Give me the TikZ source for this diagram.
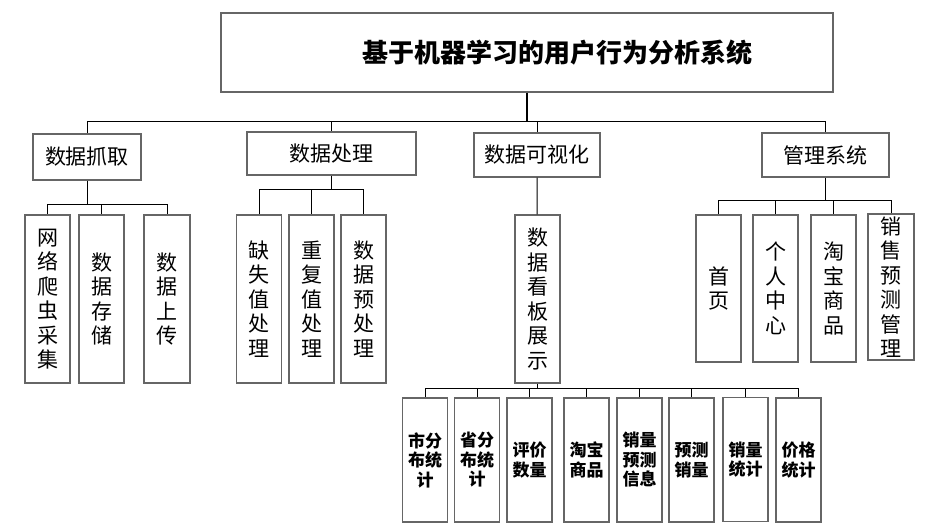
\documentclass[tikz,border=0pt]{standalone}
\usepackage{fontspec}
\setmainfont{Noto Sans CJK SC}
\definecolor{boxgrey}{rgb}{0.40, 0.40, 0.40}
\tikzset{edge/.style={line width=1pt, color=black}}
\tikzset{tedge/.style={line width=2pt, color=black}}
\tikzset{box/.style={draw=boxgrey, line width=1.4pt, fill=white, inner sep=0pt, align=center}}
\tikzset{hbox/.style={box, font=\fontsize{21}{25}\selectfont}}
\tikzset{vbox/.style={box, minimum width=45pt, font=\fontsize{21}{24.5}\selectfont}}
\tikzset{sbox/.style={box, minimum width=45pt, minimum height=124pt, font=\fontsize{17}{19.5}\selectfont\bfseries}}

\begin{document}
\begin{tikzpicture}[x=1pt, y=-1pt]%{{{
        \useasboundingbox (0,0) rectangle (940,530);

        \node[box, minimum width=612pt, minimum height=79pt, font=\fontsize{26}{30}\selectfont\bfseries] (T) at (527, 52.5)
        {\hspace*{60pt}基于机器学习的用户行为分析系统};

        \node[hbox, minimum width=108pt, minimum height=46pt] (Na) at (87,   157)   {数据抓取};
        \node[hbox, minimum width=169pt, minimum height=43pt] (Nb) at (331.5, 153.5) {数据处理};
        \node[hbox, minimum width=126pt, minimum height=44pt] (Nc) at (537,  155)   {数据可视化};
        \node[hbox, minimum width=127pt, minimum height=44pt] (Nd) at (825.5, 155)   {管理系统};

        \coordinate (J) at (527, 121.5);
        \draw [tedge] (T) -- (J);
        \draw [edge] (J) -| (Na);
        \draw [edge] (J) -| (Nb);
        \draw [edge] (J) -| (Nc);
        \draw [edge] (J) -| (Nd);

        \node[vbox, minimum height=168pt] (Na1) at (47.5,  299) {网\\络\\爬\\虫\\采\\集};
        \node[vbox, minimum height=168pt] (Na2) at (101.5, 299) {数\\据\\存\\储};
        \node[vbox, minimum height=168pt, minimum width=46pt] (Na3) at (167, 299) {数\\据\\上\\传};
        \node[vbox, minimum height=168pt] (Nb1) at (259,   299) {缺\\失\\值\\处\\理};
        \node[vbox, minimum height=168pt] (Nb2) at (311.5, 299) {重\\复\\值\\处\\理};
        \node[vbox, minimum height=168pt] (Nb3) at (363.5, 299) {数\\据\\预\\处\\理};
        \node[vbox, minimum height=168pt] (Nc1) at (537.5, 299) {数\\据\\看\\板\\展\\示};
        \node[vbox, minimum height=147pt] (Nd1) at (718.5, 288.5) {首\\页};
        \node[vbox, minimum height=147pt] (Nd2) at (775.5, 288.5) {个\\人\\中\\心};
        \node[vbox, minimum height=147pt] (Nd3) at (833.5, 288.5) {淘\\宝\\商\\品};
        \node[vbox, minimum height=146pt, minimum width=46pt] (Nd4) at (891, 287) {销\\售\\预\\测\\管\\理};

        \coordinate (Ja) at (87, 204);
        \draw [edge] (Na) -- (Ja);
        \draw [edge] (Ja) -| (Na1);
        \draw [edge] (Ja) -| (Na2);
        \draw [edge] (Ja) -| (Na3);

        \coordinate (Jb) at (331.5, 189);
        \draw [edge] (Nb) -- (Jb);
        \draw [edge] (Jb) -| (Nb1);
        \draw [edge] (Jb) -| (Nb2);
        \draw [edge] (Jb) -| (Nb3);

        \draw [edge] (Nc) -- (Nc1);

        \coordinate (Jd) at (825.5, 200);
        \draw [edge] (Nd) -- (Jd);
        \draw [edge] (Jd) -| (Nd1);
        \draw [edge] (Jd) -| (Nd2);
        \draw [edge] (Jd) -| (Nd3);
        \draw [edge] (Jd) -| (Nd4);

        \node[sbox] (Ne1) at (425,   460) {市分\\布统\\计};
        \node[sbox] (Ne2) at (477,   460) {省分\\布统\\计};
        \node[sbox] (Ne3) at (529.5, 460) {评价\\数量};
        \node[sbox] (Ne4) at (586.5, 460) {淘宝\\商品};
        \node[sbox] (Ne5) at (639.5, 460) {销量\\预测\\信息};
        \node[sbox] (Ne6) at (691.5, 460) {预测\\销量};
        \node[sbox] (Ne7) at (745.5, 459.5) {销量\\统计};
        \node[sbox] (Ne8) at (798.5, 460) {价格\\统计};

        \coordinate (Je) at (537.5, 388.5);
        \draw [edge] (Nc1) -- (Je);
        \draw [edge] (Je) -| (Ne1);
        \draw [edge] (Je) -| (Ne2);
        \draw [edge] (Je) -| (Ne3);
        \draw [edge] (Je) -| (Ne4);
        \draw [edge] (Je) -| (Ne5);
        \draw [edge] (Je) -| (Ne6);
        \draw [edge] (Je) -| (Ne7);
        \draw [edge] (Je) -| (Ne8);
    \end{tikzpicture}
\end{document}
